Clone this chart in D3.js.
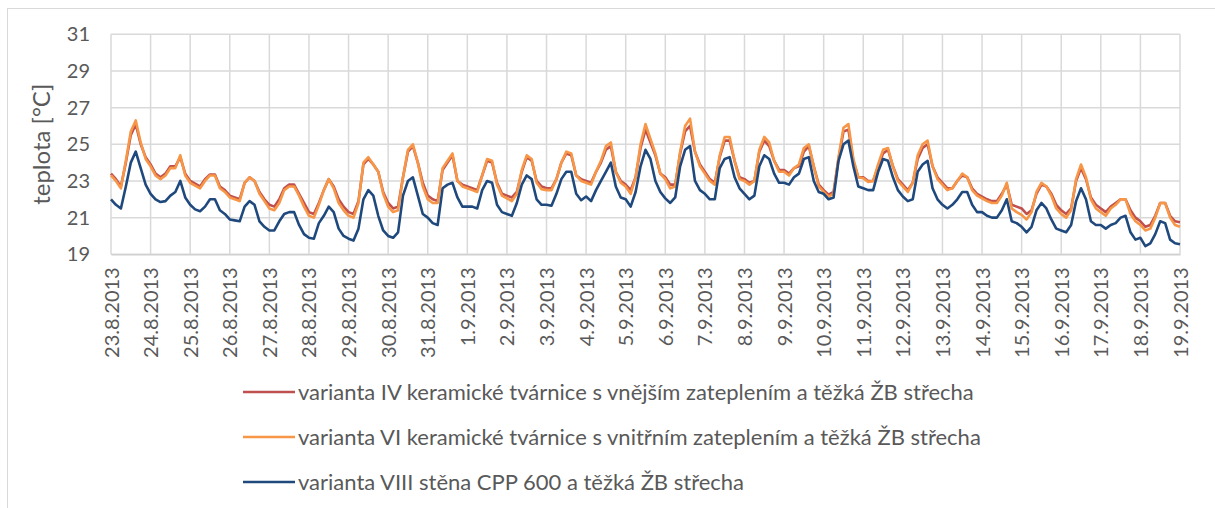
<!DOCTYPE html>
<html>
<head>
<meta charset="utf-8">
<script src="https://cdn.jsdelivr.net/npm/d3@7"></script>
<style>
    body { margin: 0; background: #fff; }
    text { font-family: Lato, "Open Sans", sans-serif; fill: #595959; }
</style>
</head>
<body>
<div id="chart"></div>
<script>
// tick labels on the x axis (one per day)
var dayLabels = ["23.8.2013", "24.8.2013", "25.8.2013", "26.8.2013", "27.8.2013", "28.8.2013",
    "29.8.2013", "30.8.2013", "31.8.2013", "1.9.2013", "2.9.2013", "3.9.2013", "4.9.2013",
    "5.9.2013", "6.9.2013", "7.9.2013", "8.9.2013", "9.9.2013", "10.9.2013", "11.9.2013",
    "12.9.2013", "13.9.2013", "14.9.2013", "15.9.2013", "16.9.2013", "17.9.2013",
    "18.9.2013", "19.9.2013"];

var yTicks = [19, 21, 23, 25, 27, 29, 31];

var seriesNames = [
    "varianta IV keramické tvárnice s vnějším zateplením a těžká ŽB střecha",
    "varianta VI keramické tvárnice s vnitřním zateplením a těžká ŽB střecha",
    "varianta VIII stěna CPP 600 a těžká ŽB střecha"
];

// values every 3 hours (0,3,...,21 h), one row per day, last value = 19.9. 0:00
var variantaIV = [
    23.4, 23.1, 22.7, 24.0, 25.5, 26.1, 25.0, 24.3,
    23.9, 23.4, 23.2, 23.4, 23.8, 23.8, 24.3, 23.4,
    23.0, 22.85, 22.7, 23.1, 23.35, 23.35, 22.7, 22.5,
    22.2, 22.1, 22.0, 22.9, 23.2, 23.0, 22.4, 22.0,
    21.7, 21.6, 22.0, 22.6, 22.8, 22.8, 22.3, 21.8,
    21.3, 21.2, 21.8, 22.5, 23.1, 22.7, 22.0, 21.6,
    21.3, 21.2, 21.9, 23.9, 24.2, 23.9, 23.5, 22.4,
    21.8, 21.5, 21.6, 23.2, 24.6, 24.9, 24.0, 22.9,
    22.2, 22.0, 21.9, 23.6, 24.0, 24.4, 23.0, 22.8,
    22.7, 22.6, 22.5, 23.3, 24.1, 24.0, 22.9, 22.3,
    22.2, 22.1, 22.4, 23.5, 24.3, 24.1, 23.0, 22.7,
    22.6, 22.6, 23.1, 24.0, 24.5, 24.4, 23.3, 23.1,
    23.0, 22.9, 23.5, 24.0, 24.7, 24.9, 23.5, 23.0,
    22.8, 22.5, 23.2, 24.8, 25.8, 25.1, 24.4, 23.4,
    23.2, 22.8, 22.8, 24.5, 25.7, 26.0, 24.6, 23.9,
    23.5, 23.1, 22.9, 24.3, 25.2, 25.2, 24.1, 23.2,
    23.1, 22.9, 23.0, 24.6, 25.2, 24.9, 24.1, 23.6,
    23.6, 23.4, 23.7, 23.8, 24.6, 24.9, 23.8, 22.8,
    22.5, 22.25, 22.4, 24.2, 25.7, 25.8, 24.1, 23.2,
    23.2, 23.0, 23.0, 23.8, 24.5, 24.7, 23.8, 23.1,
    22.8, 22.5, 22.9, 24.2, 24.8, 25.0, 23.8, 23.2,
    22.9, 22.6, 22.6, 23.0, 23.3, 23.2, 22.6, 22.3,
    22.15, 22.0, 21.9, 21.9, 22.3, 22.8, 21.7, 21.6,
    21.5, 21.2, 21.4, 22.3, 22.8, 22.7, 22.3, 21.7,
    21.4, 21.2, 21.5, 23.0, 23.7, 23.1, 22.1, 21.7,
    21.5, 21.3, 21.6, 21.8, 22.0, 22.0, 21.4, 21.0,
    20.8, 20.5, 20.6, 21.1, 21.8, 21.8, 21.1, 20.8,
    20.75
];

var variantaVI = [
    23.3, 23.0, 22.6, 24.1, 25.7, 26.3, 25.1, 24.2,
    23.8, 23.3, 23.1, 23.3, 23.7, 23.7, 24.4, 23.3,
    22.9, 22.75, 22.6, 23.0, 23.3, 23.3, 22.6, 22.4,
    22.1, 22.0, 21.9, 22.9, 23.2, 23.0, 22.3, 21.9,
    21.5, 21.4, 21.8, 22.5, 22.7, 22.7, 22.2, 21.6,
    21.1, 21.0, 21.7, 22.5, 23.1, 22.6, 21.8, 21.4,
    21.1, 21.0, 21.8, 24.0, 24.3, 23.9, 23.5, 22.3,
    21.6, 21.3, 21.4, 23.2, 24.7, 25.0, 24.0, 22.7,
    22.0, 21.8, 21.8, 23.7, 24.1, 24.5, 23.0, 22.7,
    22.6, 22.5, 22.4, 23.3, 24.2, 24.1, 22.8, 22.2,
    22.05, 21.9, 22.3, 23.6, 24.4, 24.2, 22.9, 22.55,
    22.5, 22.5, 23.1, 24.0, 24.6, 24.5, 23.3, 23.0,
    22.9, 22.8, 23.5, 24.1, 24.9, 25.1, 23.5, 22.9,
    22.7, 22.3, 23.2, 25.0, 26.1, 25.3, 24.5, 23.4,
    23.1, 22.6, 22.7, 24.6, 26.0, 26.4, 24.6, 23.8,
    23.4, 23.0, 22.8, 24.4, 25.4, 25.4, 24.1, 23.1,
    23.0, 22.8, 23.0, 24.7, 25.4, 25.1, 24.1, 23.5,
    23.5, 23.3, 23.7, 23.9, 24.8, 25.0, 23.8, 22.7,
    22.4, 22.15, 22.3, 24.3, 25.9, 26.1, 24.2, 23.2,
    23.15, 22.95, 23.0, 23.9, 24.7, 24.8, 23.8, 23.0,
    22.7, 22.4, 22.9, 24.4, 25.0, 25.2, 23.8, 23.1,
    22.8, 22.5, 22.6, 23.0, 23.4, 23.2, 22.5, 22.2,
    22.05, 21.9, 21.8, 21.8, 22.2, 22.9, 21.5, 21.3,
    21.15, 20.9, 21.3, 22.4, 22.9, 22.7, 22.2, 21.5,
    21.2, 21.0, 21.4, 23.1, 23.9, 23.2, 22.0, 21.5,
    21.3, 21.1, 21.5, 21.7, 22.0, 22.0, 21.2, 20.8,
    20.6, 20.3, 20.4, 21.0, 21.8, 21.8, 21.0, 20.6,
    20.5
];

var variantaVIII = [
    22.0, 21.7, 21.5, 22.7, 24.0, 24.6, 23.7, 22.8,
    22.3, 22.0, 21.85, 21.9, 22.2, 22.4, 23.0, 22.1,
    21.7, 21.45, 21.35, 21.6, 22.0, 22.0, 21.4, 21.2,
    20.9, 20.85, 20.8, 21.6, 21.9, 21.7, 20.8, 20.5,
    20.3, 20.3, 20.8, 21.2, 21.3, 21.3, 20.6, 20.1,
    19.9, 19.85, 20.7, 21.1, 21.6, 21.3, 20.4, 20.0,
    19.85, 19.75, 20.4, 22.0, 22.5, 22.2, 21.1, 20.3,
    20.0, 19.9, 20.2, 22.2, 23.0, 23.2, 22.2, 21.2,
    21.0, 20.7, 20.6, 22.6, 22.8, 22.9, 22.1, 21.6,
    21.6, 21.6, 21.5, 22.5, 23.0, 22.9, 21.7, 21.3,
    21.2, 21.1, 21.8, 22.8, 23.3, 23.1, 22.0, 21.7,
    21.7, 21.65, 22.3, 23.1, 23.5, 23.5, 22.3, 21.95,
    22.15, 21.9, 22.5, 23.0, 23.5, 24.0, 22.7, 22.1,
    22.0, 21.6, 22.4, 23.8, 24.7, 24.2, 23.0, 22.4,
    22.05, 21.8, 22.1, 23.8, 24.7, 24.9, 23.0, 22.5,
    22.3, 22.0, 22.0, 23.7, 24.2, 24.3, 23.2, 22.6,
    22.3, 22.0, 22.2, 23.8, 24.4, 24.2, 23.4, 22.9,
    22.9, 22.8, 23.2, 23.4, 24.2, 24.3, 23.0, 22.4,
    22.3, 22.0, 22.1, 24.1, 25.0, 25.2, 23.8, 22.7,
    22.6, 22.5, 22.5, 23.5, 24.2, 24.1, 23.2, 22.5,
    22.15, 21.9, 22.0, 23.5, 23.9, 24.1, 22.6, 22.0,
    21.7, 21.5, 21.7, 22.0, 22.4, 22.4, 21.7, 21.3,
    21.3, 21.1, 21.0, 21.0, 21.4, 22.0, 20.8, 20.7,
    20.5, 20.2, 20.5, 21.4, 21.8, 21.5, 20.9, 20.4,
    20.3, 20.2, 20.6, 21.9, 22.6, 22.0, 20.8, 20.6,
    20.6, 20.4, 20.6, 20.7, 21.0, 21.1, 20.2, 19.8,
    19.9, 19.45, 19.6, 20.1, 20.8, 20.7, 19.8, 19.6,
    19.55
];

var seriesColors = ["#c0504d", "#f79646", "#1f497d"];

function go() {
    var width = 1215;
    var height = 508;
    var svg = d3.select("#chart")
        .append("svg")
        .attr("width", width)
        .attr("height", height);

    // outer chart frame (only left and top edges are in view)
    svg.append("rect")
        .attr("x", 7.5)
        .attr("y", 8.5)
        .attr("width", 1400)
        .attr("height", 700)
        .attr("fill", "none")
        .attr("stroke", "#d9d9d9");

    var x = d3.scaleLinear().domain([0, dayLabels.length - 1]).range([111, 1180]);
    var y = d3.scaleLinear().domain([19, 31]).range([254.3, 34.3]);

    // grid
    var grid = svg.append("g").attr("class", "grid");
    grid.selectAll(".hgrid")
        .data(yTicks)
        .enter().append("line")
        .attr("x1", x(0)).attr("x2", x(dayLabels.length - 1))
        .attr("y1", function(d) { return y(d); })
        .attr("y2", function(d) { return y(d); })
        .attr("stroke", "#d9d9d9")
        .attr("stroke-width", 1.5);
    grid.selectAll(".vgrid")
        .data(d3.range(dayLabels.length))
        .enter().append("line")
        .attr("x1", function(d) { return x(d); })
        .attr("x2", function(d) { return x(d); })
        .attr("y1", y(31)).attr("y2", y(19))
        .attr("stroke", "#d9d9d9")
        .attr("stroke-width", 1.5);

    // y axis labels
    var yAxis = svg.append("g")
        .attr("transform", "translate(" + x(0) + ",0)")
        .call(d3.axisLeft(y).tickValues(yTicks).tickSize(0).tickPadding(21));
    yAxis.select(".domain").remove();
    yAxis.selectAll("text")
        .style("font-size", "20px")
        .attr("fill", "#595959");

    svg.append("text")
        .attr("transform", "translate(42," + y(25) + ") rotate(-90)")
        .attr("text-anchor", "middle")
        .attr("dy", "0.35em")
        .style("font-size", "24px")
        .text("teplota [°C]");

    // x axis
    var xAxis = svg.append("g")
        .attr("transform", "translate(0," + y(19) + ")")
        .call(d3.axisBottom(x)
            .tickValues(d3.range(dayLabels.length))
            .tickSize(0)
            .tickFormat(function(i) { return dayLabels[i]; }));
    xAxis.select(".domain").attr("stroke", "#d0d0d0").attr("stroke-width", 1.5);
    xAxis.selectAll("text")
        .attr("transform", "rotate(-90)")
        .attr("x", -13)
        .attr("y", 0)
        .attr("dy", "0.35em")
        .attr("text-anchor", "end")
        .attr("fill", "#595959")
        .style("font-size", "20px");

    // lines
    var allSeries = [variantaIV, variantaVI, variantaVIII];
    var line = d3.line()
        .x(function(d, i) { return x(i / 8); })
        .y(function(d) { return y(d); });

    svg.selectAll(".series")
        .data(allSeries)
        .enter().append("path")
        .attr("class", "series")
        .attr("d", function(d) { return line(d); })
        .attr("fill", "none")
        .attr("stroke", function(d, i) { return seriesColors[i]; })
        .attr("stroke-width", 2.6)
        .attr("stroke-linejoin", "round");

    // legend
    var legend = svg.selectAll(".legend")
        .data(seriesNames)
        .enter().append("g")
        .attr("class", "legend")
        .attr("transform", function(d, i) { return "translate(243," + (392 + i * 45) + ")"; });
    legend.append("line")
        .attr("x1", 0).attr("x2", 52)
        .attr("stroke", function(d, i) { return seriesColors[i]; })
        .attr("stroke-width", 2.6);
    legend.append("text")
        .attr("x", 55)
        .attr("dy", "0.35em")
        .style("font-size", "22px")
        .text(function(d) { return d; });
}

document.addEventListener("DOMContentLoaded", function () {
    go();
});
</script>
</body>
</html>
